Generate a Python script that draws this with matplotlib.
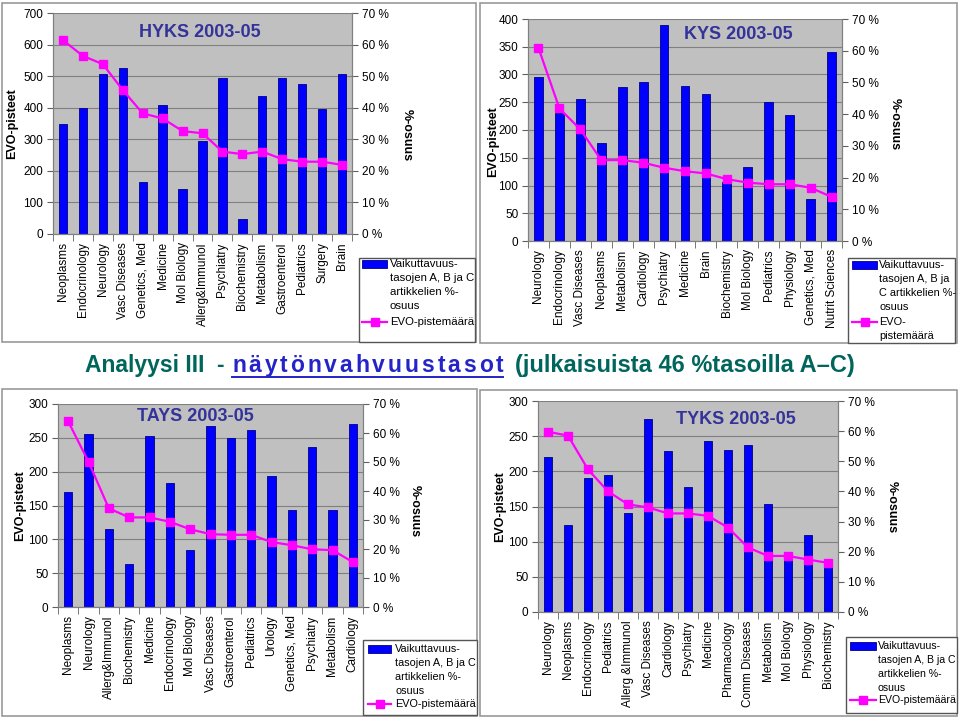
import matplotlib
matplotlib.use("Agg")
import matplotlib.pyplot as plt
from matplotlib.patches import Rectangle

plt.rcParams['font.family'] = ['Liberation Sans', 'DejaVu Sans']

W, H = 960, 718

# HYKS 2003-05
hyks_cats = ["Neoplasms", "Endocrinology", "Neurology", "Vasc Diseases", "Genetics, Med",
             "Medicine", "Mol Biology", "Allerg&Immunol", "Psychiatry", "Biochemistry",
             "Metabolism", "Gastroenterol", "Pediatrics", "Surgery", "Brain"]
hyks_evo = [348, 398, 506, 525, 164, 410, 143, 293, 494, 46, 438, 494, 475, 395, 506]
hyks_pct = [61.4, 56.4, 53.8, 45.6, 38.2, 36.6, 32.6, 31.9, 26.1, 25.3, 26.1, 23.7, 22.9, 22.9, 21.9]

# KYS 2003-05
kys_cats = ["Neurology", "Endocrinology", "Vasc Diseases", "Neoplasms", "Metabolism",
            "Cardiology", "Psychiatry", "Medicine", "Brain", "Biochemistry", "Mol Biology",
            "Pediatrics", "Physiology", "Genetics, Med", "Nutrit Sciences"]
kys_evo = [296, 231, 255, 177, 277, 286, 390, 280, 264, 107, 133, 250, 227, 76, 340]
kys_pct = [60.9, 41.8, 35.2, 25.5, 25.5, 24.7, 23.1, 22.0, 21.3, 19.5, 18.4, 17.9, 17.9, 16.8, 13.9]

# TAYS 2003-05
tays_cats = ["Neoplasms", "Neurology", "Allerg&Immunol", "Biochemistry", "Medicine",
             "Endocrinology", "Mol Biology", "Vasc Diseases", "Gastroenterol", "Pediatrics",
             "Urology", "Genetics, Med", "Psychiatry", "Metabolism", "Cardiology"]
tays_evo = [170, 256, 115, 63, 252, 183, 84, 267, 250, 262, 193, 144, 236, 144, 271]
tays_pct = [64.0, 50.1, 34.0, 30.9, 30.9, 29.4, 26.8, 25.1, 24.9, 24.9, 22.4, 21.3, 19.9, 19.6, 15.5]

# TYKS 2003-05
tyks_cats = ["Neurology", "Neoplasms", "Endocrinology", "Pediatrics", "Allerg &Immunol",
             "Vasc Diseases", "Cardiology", "Psychiatry", "Medicine", "Pharmacology",
             "Comm Diseases", "Metabolism", "Mol Biology", "Physiology", "Biochemistry"]
tyks_evo = [221, 124, 190, 195, 141, 274, 229, 178, 243, 230, 238, 153, 78, 110, 65]
tyks_pct = [59.8, 58.5, 47.3, 40.0, 35.7, 34.7, 32.7, 32.7, 31.9, 28.0, 21.4, 18.6, 18.6, 17.4, 16.3]

BLUE = "#0000FF"
NAVY = "#000080"
MAGENTA = "#FF00FF"
TITLE_C = "#333399"

fig = plt.figure(figsize=(9.6, 7.18), dpi=100)
over = fig.add_axes([0, 0, 1, 1])
over.set_xlim(0, W)
over.set_ylim(H, 0)
over.axis('off')


def px_rect(l, t, r, b):
    return [l / W, 1 - b / H, (r - l) / W, (b - t) / H]


def panel(frame, plot, cats, evo, pct, ymax, ystep, title, tpos,
          ylab, rlab, leg_box, leg_hx, leg_tx, lines1, y1, lines2, y2, lfs=7.9):
    # panel frame
    l, t, r, b = frame
    over.add_patch(Rectangle((l, t), r - l, b - t, fill=False, ec="#999999", lw=1.2))

    ax = fig.add_axes(px_rect(*plot))
    ax.set_facecolor("#C0C0C0")
    x = list(range(len(cats)))
    ax.bar(x, evo, width=0.42, color=BLUE, edgecolor=NAVY, lw=0.6, zorder=2)
    ax.set_xlim(-0.5, len(cats) - 0.5)
    ax.set_ylim(0, ymax)
    ax.set_yticks(range(0, ymax + 1, ystep))
    ax.yaxis.grid(True, color="#808080", lw=0.8)
    ax.set_axisbelow(True)
    ax.set_xticks(x)
    ax.set_xticklabels(cats, rotation=90, fontsize=8.5)
    ax.set_xticks([i - 0.5 for i in range(len(cats) + 1)], minor=True)
    ax.tick_params(axis='x', which='major', length=0, pad=6)
    ax.tick_params(axis='x', which='minor', length=5, color="#606060", direction='out')
    ax.tick_params(axis='y', length=4, color="#606060", labelsize=8.5, pad=3)
    for s in ax.spines.values():
        s.set_color("#808080")
    ax.spines['top'].set_visible(False)

    ax2 = ax.twinx()
    ax2.plot(x, pct, color=MAGENTA, lw=1.6, marker='s', ms=5.5, mec=MAGENTA, zorder=3)
    ax2.set_ylim(0, 70)
    ax2.set_yticks(range(0, 71, 10))
    ax2.set_yticklabels([f"{v} %" for v in range(0, 71, 10)])
    ax2.tick_params(axis='y', length=4, color="#606060", labelsize=8.5, pad=3)
    for s in ax2.spines.values():
        s.set_color("#808080")
    ax2.spines['top'].set_visible(False)

    ax.text(tpos[0], tpos[1], title, transform=ax.transAxes, ha='center', va='center',
            fontsize=13, fontweight='bold', color=TITLE_C, zorder=5)

    over.text(ylab[0], ylab[1], "EVO-pisteet", rotation=90, ha='center', va='center',
              fontsize=9, fontweight='bold')
    over.text(rlab[0], rlab[1], "%-osuus", rotation=270, ha='center', va='center',
              fontsize=9, fontweight='bold')

    # legend
    bl, bt, br, bb = leg_box
    over.add_patch(Rectangle((bl, bt), br - bl, bb - bt, fc='white', ec="#555555", lw=1))
    over.add_patch(Rectangle((leg_hx[0], y1 - 4), leg_hx[1] - leg_hx[0], 8,
                             fc=BLUE, ec=NAVY, lw=0.6))
    for i, s in enumerate(lines1):
        over.text(leg_tx, y1 + i * 14, s, va='center', ha='left', fontsize=lfs)
    over.plot(leg_hx, [y2, y2], color=MAGENTA, lw=1.6)
    over.plot([(leg_hx[0] + leg_hx[1]) / 2], [y2], color=MAGENTA, marker='s', ms=5.5)
    for i, s in enumerate(lines2):
        over.text(leg_tx, y2 + i * 14, s, va='center', ha='left', fontsize=lfs)


lab_std = ["Vaikuttavuus-", "tasojen A, B ja C", "artikkelien %-", "osuus"]
lab_kys = ["Vaikuttavuus-", "tasojen A, B ja", "C artikkelien %-", "osuus"]

panel((2, 3, 476, 342), (53, 13, 352, 234), hyks_cats, hyks_evo, hyks_pct, 700, 100,
      "HYKS 2003-05", (0.49, 0.91), (12, 124), (407, 135),
      (359, 258, 475, 342), (362, 387), 390, lab_std, 264, ["EVO-pistemäärä"], 322, 8.2)
panel((480, 3, 957, 343), (528, 19, 842, 241), kys_cats, kys_evo, kys_pct, 400, 50,
      "KYS 2003-05", (0.67, 0.93), (493, 142), (895, 124),
      (848, 258, 955, 343), (852, 877), 879, lab_kys, 265, ["EVO-", "pistemäärä"], 322, 7.9)
panel((2, 389, 477, 716), (58, 404, 363, 607), tays_cats, tays_evo, tays_pct, 300, 50,
      "TAYS 2003-05", (0.45, 0.94), (20, 506), (415, 511),
      (363, 640, 477, 715), (368, 391), 395, lab_std, 649, ["EVO-pistemäärä"], 704, 7.8)
panel((480, 390, 957, 716), (538, 401, 838, 612), tyks_cats, tyks_evo, tyks_pct, 300, 50,
      "TYKS 2003-05", (0.66, 0.91), (500, 507), (892, 507),
      (846, 637, 957, 713), (850, 876), 878, lab_std, 646, ["EVO-pistemäärä"], 700, 7.6)

# heading between the rows
TEAL = "#00665C"
HBLUE = "#2424C8"
base = 372
over.text(85, base, "Analyysi III", fontsize=16.5, fontweight='bold', color=TEAL, va='baseline')
over.text(216, base, "-", fontsize=16.5, fontweight='bold', color=TEAL, va='baseline')
r = fig.canvas.get_renderer()
xw = 232
for ch in "näytönvahvuustasot":
    t = over.text(xw, base, ch, fontsize=16.5, fontweight='bold', color=HBLUE, va='baseline')
    xw += t.get_window_extent(r).width + 2.9
over.plot([232, xw - 2.9], [base + 5, base + 5], color=HBLUE, lw=1.4)
over.text(515, base, "(julkaisuista 46 %tasoilla A\u2013C)", fontsize=17, fontweight='bold',
          color=TEAL, va='baseline')

fig.savefig("out.png", dpi=100)
